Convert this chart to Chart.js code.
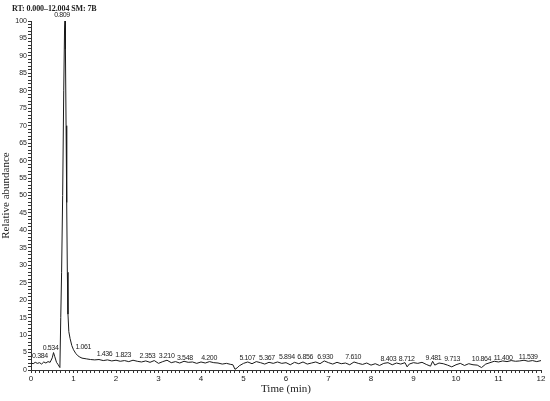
<!DOCTYPE html>
<html>
<head>
<meta charset="utf-8">
<script src="https://cdn.jsdelivr.net/npm/chart.js@4.4.1/dist/chart.umd.min.js"></script>
<style>
  body { margin: 0; background: #fff; }
  #wrap { width: 550px; height: 401px; position: relative; }
</style>
</head>
<body>
<div id="wrap"><canvas id="chrom"></canvas></div>
<script>
//--------------------------------------------Data
const times = [0.00, 0.05, 0.10, 0.15, 0.20, 0.25, 0.30, 0.35, 0.40, 0.45, 0.50, 0.53, 0.56, 0.60, 0.64, 0.68,
    0.70, 0.72, 0.745, 0.77, 0.79, 0.80, 0.81, 0.825, 0.84, 0.855, 0.87, 0.89, 0.92, 0.96, 1.00, 1.05, 1.10, 1.15, 1.20, 1.30, 1.40,
    1.5, 1.6, 1.7, 1.8, 1.9, 2.0, 2.1, 2.2, 2.3, 2.4, 2.5, 2.6, 2.7, 2.8, 2.9, 3.0, 3.1, 3.2, 3.3, 3.4, 3.5, 3.6, 3.7,
    3.8, 3.9, 4.0, 4.1, 4.2, 4.3, 4.4, 4.5, 4.6, 4.7, 4.75, 4.8, 4.85, 4.9, 5.0, 5.1, 5.2, 5.3, 5.4, 5.5, 5.6, 5.7,
    5.8, 5.9, 6.0, 6.1, 6.2, 6.3, 6.4, 6.5, 6.6, 6.7, 6.8, 6.9, 7.0, 7.1, 7.2, 7.3, 7.4, 7.5, 7.6, 7.7, 7.8, 7.9,
    8.0, 8.1, 8.2, 8.3, 8.4, 8.5, 8.6, 8.7, 8.8, 8.85, 8.9, 9.0, 9.1, 9.2, 9.3, 9.4, 9.45, 9.5, 9.6, 9.7, 9.8, 9.9,
    10.0, 10.1, 10.2, 10.3, 10.4, 10.5, 10.6, 10.7, 10.8, 10.9, 11.0, 11.1, 11.2, 11.3, 11.4, 11.5, 11.6, 11.7,
    11.8, 11.9, 12.0];
const abundance = [2.0, 1.8, 2.2, 1.9, 2.1, 1.7, 2.3, 2.0, 2.4, 2.2, 3.5, 5.0, 3.8, 2.2, 1.5, 0.7,
    15, 28, 50, 80, 98, 100, 92, 70, 48, 28, 16, 11, 9, 7, 5.8, 4.8, 4.1, 3.7, 3.4, 3.2, 3.0,
    2.9, 3.0, 2.7, 2.9, 2.6, 2.8, 2.5, 2.7, 2.4, 2.8, 2.5, 2.3, 2.6, 2.2, 2.7, 1.9, 2.4, 2.8, 2.1, 2.4, 2.0, 2.5, 2.2,
    2.3, 1.9, 2.3, 2.0, 2.4, 2.1, 2.0, 1.7, 1.9, 1.6, 1.5, 0.2, 0.6, 1.2, 1.9, 2.3, 1.8, 2.4, 2.1, 1.7, 2.2, 1.9,
    2.3, 1.9, 2.1, 1.5, 2.2, 1.8, 2.3, 1.7, 2.0, 2.3, 1.8, 2.6, 2.1, 1.7, 2.2, 1.8, 2.0, 1.5, 2.3, 1.9, 1.6, 2.0,
    1.4, 1.8, 1.3, 1.9, 2.1, 1.5, 2.0, 1.7, 2.1, 0.9, 1.7, 2.1, 1.9, 2.2, 1.6, 1.1, 2.5, 1.4, 2.0, 1.8, 1.4, 0.9,
    1.5, 1.9, 1.3, 1.8, 1.5, 1.4, 0.7, 1.7, 2.1, 2.5, 2.3, 2.6, 2.4, 2.7, 2.5, 2.6, 2.8, 2.5,
    2.7, 2.4, 2.7];

// peak labels: text, where it sits (min) and at which level
const peakNames = ['0.384', '0.534', '0.809', '1.061', '1.436', '1.823', '2.353', '3.210', '3.548', '4.200',
    '5.107', '5.367', '5.894', '6.856', '6.930', '7.610', '8.403', '8.712', '9.481', '9.713', '10.864', '11.400', '11.539'];
const peakAt = [0.21, 0.46, 0.73, 1.23, 1.73, 2.17, 2.74, 3.19, 3.62, 4.19,
    5.09, 5.55, 6.02, 6.45, 6.92, 7.58, 8.41, 8.84, 9.47, 9.91, 10.60, 11.11, 11.70];
const peakLevel = [4.0, 6.4, 101.7, 6.7, 4.6, 4.3, 4.0, 4.1, 3.4, 3.4,
    3.4, 3.5, 3.7, 3.7, 3.8, 3.7, 3.2, 3.1, 3.5, 3.1, 3.2, 3.4, 3.7];

const xMax = 12;
const yMax = 100;

//--------------------------------------------Plugins
const peakLabels = {
    id: 'peakLabels',
    afterDatasetsDraw(chart) {
        const { ctx, scales: { x, y } } = chart;
        ctx.save();
        ctx.font = '7px "Liberation Sans", Arial, sans-serif';
        ctx.letterSpacing = '-0.35px';
        ctx.fillStyle = '#222';
        ctx.textAlign = 'center';
        ctx.textBaseline = 'middle';
        peakNames.forEach((name, i) => {
            ctx.fillText(name, x.getPixelForValue(peakAt[i]), y.getPixelForValue(peakLevel[i]));
        });
        ctx.font = 'bold 8px "Liberation Serif", "Times New Roman", serif';
        ctx.letterSpacing = '-0.1px';
        ctx.textAlign = 'left';
        ctx.fillText('RT: 0.000\u201312.004 SM: 7B', 12, 9);
        ctx.restore();
    }
};

//--------------------------------------------Chart
const config = {
    type: 'line',
    data: {
        datasets: [{
            label: 'TIC',
            data: times.map((t, i) => ({ x: t, y: abundance[i] })),
            borderColor: '#1a1a1a',
            borderWidth: 1,
            pointRadius: 0,
            tension: 0,
            fill: false,
        }]
    },
    options: {
        responsive: true,
        maintainAspectRatio: false,
        animation: false,
        layout: { padding: { top: 21, right: 9, left: 0, bottom: 0 } },
        plugins: {
            legend: { display: false },
            tooltip: { enabled: false },
            title: { display: false },
        },
        scales: {
            x: {
                type: 'linear',
                min: 0,
                max: xMax,
                afterFit(scale) { scale.height = 31; },
                border: { display: true, color: '#333', width: 1 },
                grid: { drawOnChartArea: false, tickLength: 3, color: '#333' },
                ticks: {
                    stepSize: 0.1,
                    autoSkip: false,
                    maxRotation: 0,
                    padding: 1,
                    color: '#222',
                    font: { family: '"Liberation Sans", Arial, sans-serif', size: 8 },
                    callback: (v) => Math.abs(v - Math.round(v)) < 1e-6 ? String(Math.round(v)) : '',
                },
                title: {
                    display: true,
                    text: 'Time (min)',
                    color: '#222',
                    padding: { top: 0, bottom: 5 },
                    font: { family: '"Liberation Serif", "Times New Roman", serif', size: 11 },
                },
            },
            y: {
                min: 0,
                max: yMax,
                afterFit(scale) { scale.width = 31; },
                border: { display: true, color: '#333', width: 1 },
                grid: { drawOnChartArea: false, tickLength: 3, color: '#333' },
                ticks: {
                    stepSize: 1,
                    autoSkip: false,
                    padding: 1,
                    color: '#222',
                    font: { family: '"Liberation Sans", Arial, sans-serif', size: 7 },
                    callback: (v) => v % 5 === 0 ? String(v) : '',
                },
                title: {
                    display: true,
                    text: 'Relative abundance',
                    color: '#222',
                    padding: { top: 0, bottom: 0 },
                    font: { family: '"Liberation Serif", "Times New Roman", serif', size: 11 },
                },
            },
        },
    },
    plugins: [peakLabels],
};

new Chart(document.getElementById('chrom'), config);
</script>
</body>
</html>
